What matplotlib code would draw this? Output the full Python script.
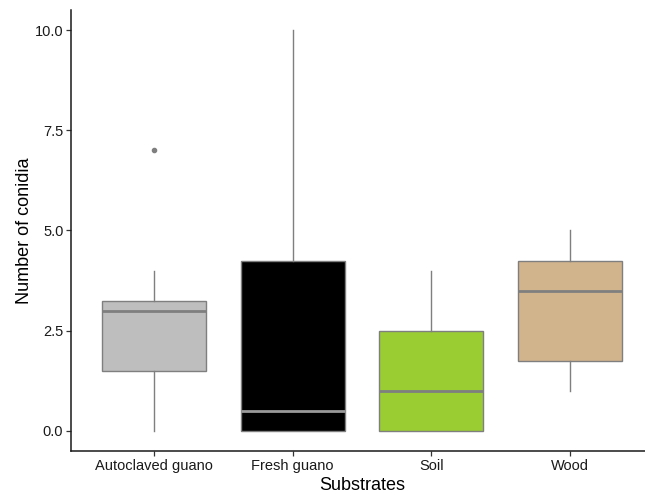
import matplotlib.pyplot as plt

plt.rcParams["font.family"] = ["Liberation Sans", "DejaVu Sans"]

# boxplot summary
substrates = ["Autoclaved guano", "Fresh guano", "Soil", "Wood"]
whisker_low = [0.0, 0.0, 0.0, 1.0]
q1 = [1.5, 0.0, 0.0, 1.75]
medians = [3.0, 0.5, 1.0, 3.5]
q3 = [3.25, 4.25, 2.5, 4.25]
whisker_high = [4.0, 10.0, 4.0, 5.0]
outliers = [[7.0], [], [], []]
fill_colors = ["#BEBEBE", "#000000", "#9ACD32", "#D2B48C"]

stats = []
for i, name in enumerate(substrates):
    stats.append({
        "label": name,
        "whislo": whisker_low[i],
        "q1": q1[i],
        "med": medians[i],
        "q3": q3[i],
        "whishi": whisker_high[i],
        "fliers": outliers[i],
    })

fig = plt.figure(figsize=(6.45, 4.95), dpi=100)
ax = fig.add_axes([71 / 645, 44 / 495, (653 - 71) / 645, (451 - 10) / 495])

edge = "#7F7F7F"
bp = ax.bxp(
    stats,
    positions=range(1, 5),
    widths=0.75,
    patch_artist=True,
    showcaps=False,
    boxprops=dict(edgecolor=edge, linewidth=1.0),
    whiskerprops=dict(color=edge, linewidth=1.0),
    medianprops=dict(color=edge, linewidth=2.0),
    flierprops=dict(marker="o", markersize=3, markerfacecolor=edge,
                    markeredgecolor=edge),
)
for patch, c in zip(bp["boxes"], fill_colors):
    patch.set_facecolor(c)
# median on the black box reads lighter
bp["medians"][1].set_color("#9A9A9A")

ax.set_xlim(0.4, 4.6)
ax.set_ylim(-0.5, 10.5)
ax.set_yticks([0, 2.5, 5, 7.5, 10])
ax.set_yticklabels(["0.0", "2.5", "5.0", "7.5", "10.0"])
ax.set_xticks(range(1, 5))
ax.set_xticklabels(substrates)

for side in ["top", "right"]:
    ax.spines[side].set_visible(False)
for side in ["left", "bottom"]:
    ax.spines[side].set_linewidth(1.1)
    ax.spines[side].set_color("#1a1a1a")
ax.tick_params(axis="both", labelsize=10.5, length=3.5, width=0.9,
               color="#333333", labelcolor="#1a1a1a", pad=2)

ax.set_xlabel("Substrates", fontsize=13, labelpad=3)
ax.set_ylabel("Number of conidia", fontsize=13, labelpad=1)

fig.savefig("out.png", dpi=100)
